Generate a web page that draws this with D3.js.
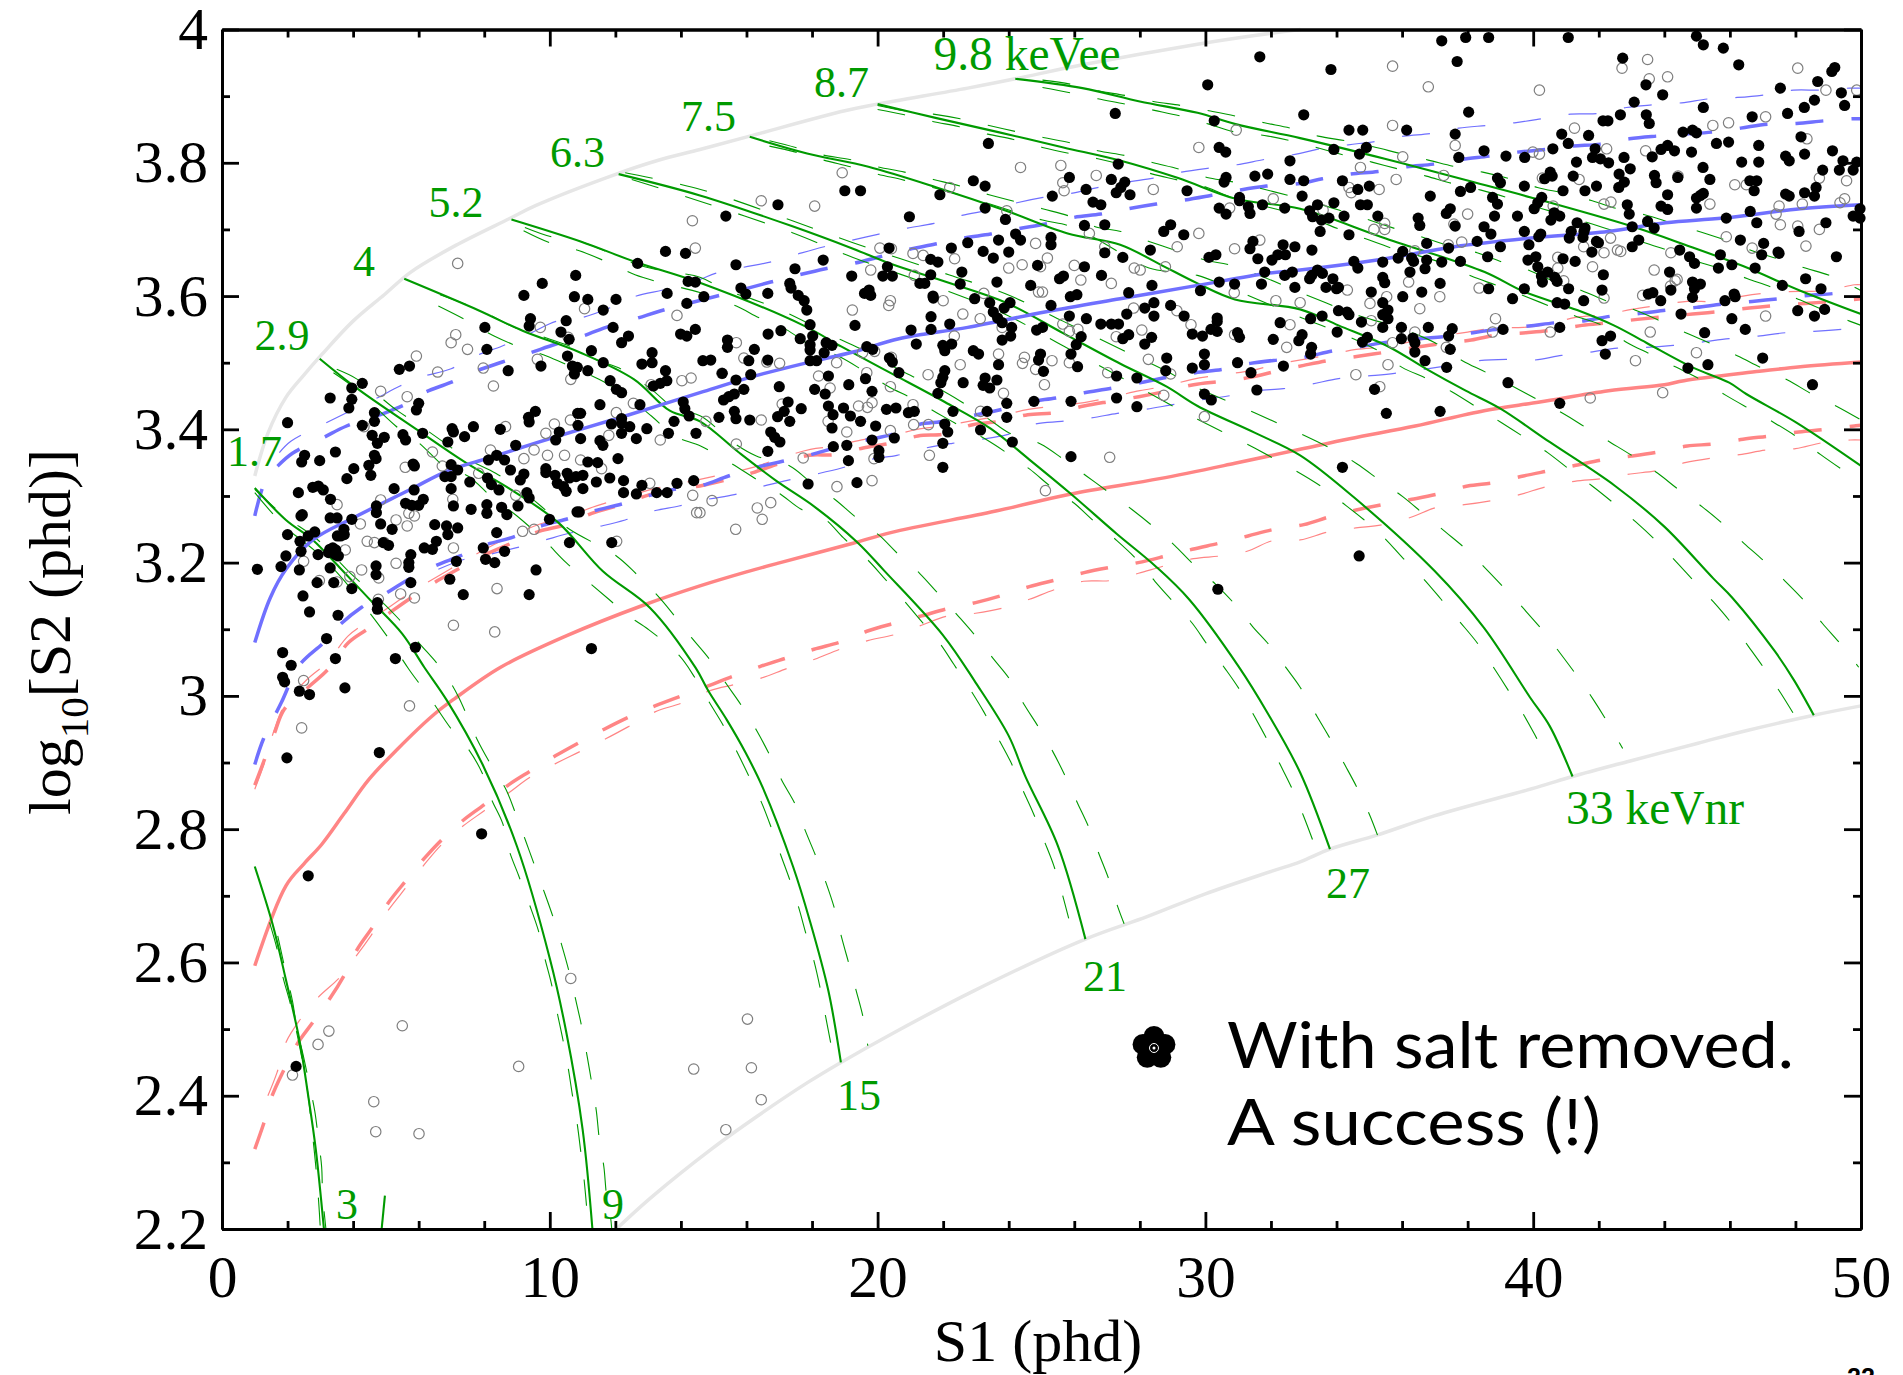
<!DOCTYPE html>
<html>
<head>
<meta charset="utf-8">
<script src="https://cdnjs.cloudflare.com/ajax/libs/d3/7.8.5/d3.min.js"></script>
<style>
  html, body { margin: 0; padding: 0; background: #fff; overflow: hidden; }
  svg { display: block; }
  text { font-family: "Liberation Serif", serif; }
</style>
</head>
<body>
<svg width="1903" height="1375"></svg>
<script>
// all curves and events below, as [S1, log10 S2]
const xTickMajor = [0, 10, 20, 30, 40, 50]
const xTickMinor = [2, 4, 6, 8, 12, 14, 16, 18, 22, 24, 26, 28, 32, 34, 36, 38, 42, 44, 46, 48]
const yTickMajor = [2.2, 2.4, 2.6, 2.8, 3, 3.2, 3.4, 3.6, 3.8, 4]
const yTickMinor = [2.3, 2.5, 2.7, 2.9, 3.1, 3.3, 3.5, 3.7, 3.9]

const upperBoundary = [[1,3.33],[1.4,3.394],[1.95,3.448],[2.49,3.481],[3.04,3.512],[3.99,3.562],[4.95,3.602],[5.76,3.636],[7.13,3.676],[8.76,3.716],[9.58,3.736],[12.03,3.783],[13.26,3.803],[14.58,3.82],[16.1,3.84],[19,3.878],[20,3.888],[22.75,3.912],[24.2,3.926],[26.25,3.947],[29.76,3.978],[31.5,3.991],[32.9,4]]
const lowerBoundary = [[12.03,2.2],[13.06,2.246],[14.96,2.321],[16.35,2.37],[17.87,2.42],[18.88,2.45],[20.4,2.492],[22.92,2.557],[26.34,2.635],[28.24,2.669],[30,2.703],[32.03,2.737],[32.89,2.751],[33.8,2.77],[35.23,2.791],[36.98,2.82],[40.13,2.863],[41.2,2.879],[42.93,2.902],[45.03,2.929],[46.43,2.947],[48.56,2.971],[50,2.985]]

const erMedian = [[1,3.08],[1.47,3.147],[1.95,3.19],[2.77,3.234],[4,3.267],[5.76,3.31],[6.85,3.337],[8.2,3.358],[10.26,3.39],[12.3,3.42],[14.58,3.455],[16.1,3.478],[17.85,3.5],[19.25,3.516],[20.65,3.536],[22.75,3.553],[25.1,3.576],[27.4,3.596],[29.76,3.616],[31.86,3.634],[32.89,3.639],[35.24,3.654],[37.6,3.674],[39.93,3.687],[42.28,3.697],[44.04,3.71],[45.8,3.717],[48.15,3.731],[50,3.737]]
const erUpper = [[1,3.27],[1.34,3.325],[1.68,3.344],[2.15,3.364],[3.11,3.388],[3.8,3.405],[4.94,3.424],[5.7,3.44],[6.17,3.455],[6.96,3.47],[7.78,3.488],[8.55,3.501],[9.41,3.515],[10.19,3.528],[11.01,3.54],[11.82,3.555],[12.68,3.567],[13.39,3.578],[15.98,3.611],[16.74,3.621],[17.62,3.632],[18.41,3.641],[19.27,3.649],[20.07,3.659],[20.94,3.67],[21.76,3.678],[22.61,3.687],[23.45,3.693],[24.29,3.701],[25.12,3.708],[25.99,3.718],[26.81,3.723],[27.65,3.731],[28.5,3.738],[29.35,3.744],[30.16,3.751],[31.04,3.759],[31.86,3.765],[32.89,3.769],[33.57,3.776],[34.42,3.783],[35.27,3.787],[36.14,3.794],[36.96,3.798],[37.82,3.805],[38.66,3.81],[39.52,3.816],[40.37,3.82],[41.2,3.825],[42.05,3.828],[42.93,3.836],[43.75,3.84],[44.63,3.843],[45.45,3.846],[46.33,3.852],[47.17,3.858],[48.03,3.859],[48.88,3.863],[49.76,3.866],[50,3.866]]
const erUpperThin = [[1.75,3.365],[2.1,3.382],[3.11,3.408],[3.8,3.425],[4.65,3.445],[5.43,3.465],[6.04,3.478],[6.99,3.491],[7.78,3.511],[8.55,3.525],[9.44,3.545],[10.19,3.562],[11.01,3.568],[11.82,3.582],[12.64,3.6],[13.53,3.61],[14.58,3.625],[15.05,3.634],[15.89,3.643],[16.72,3.651],[17.56,3.663],[18.37,3.674],[19.23,3.684],[20.04,3.693],[20.91,3.702],[21.72,3.709],[22.57,3.721],[23.39,3.729],[24.25,3.74],[25.05,3.748],[25.9,3.754],[26.74,3.763],[27.6,3.771],[28.41,3.777],[29.27,3.786],[30.11,3.792],[30.96,3.797],[31.8,3.805],[32.89,3.814],[33.48,3.821],[34.36,3.827],[35.18,3.832],[36.06,3.84],[36.88,3.844],[37.73,3.852],[38.58,3.856],[39.43,3.86],[40.26,3.866],[41.14,3.873],[41.99,3.874],[42.84,3.883],[43.66,3.887],[44.53,3.89],[45.37,3.896],[46.23,3.898],[47.07,3.902],[47.94,3.909],[48.79,3.909],[49.65,3.912],[50,3.912]]
const erLower = [[1,2.897],[1.27,2.936],[1.81,2.99],[2.36,3.046],[3.1,3.08],[3.58,3.106],[4.26,3.133],[4.97,3.153],[5.7,3.175],[6.5,3.195],[7.26,3.21],[8,3.226],[8.86,3.238],[9.67,3.254],[10.5,3.265],[11.3,3.277],[12.2,3.288],[13,3.3],[13.8,3.31],[14.58,3.315],[15.45,3.33],[16.3,3.343],[17.1,3.352],[17.97,3.362],[18.69,3.372],[19.66,3.384],[20.42,3.392],[21.23,3.407],[22.05,3.412],[22.93,3.421],[23.8,3.43],[24.62,3.441],[25.44,3.447],[26.31,3.455],[27.16,3.462],[28,3.47],[28.82,3.478],[29.7,3.485],[30.52,3.49],[31.37,3.499],[32.21,3.504],[32.89,3.507],[33.91,3.518],[34.71,3.524],[35.57,3.531],[36.53,3.536],[37.29,3.539],[38.17,3.545],[38.99,3.551],[39.87,3.555],[40.69,3.56],[41.58,3.563],[42.4,3.57],[43.28,3.574],[44.1,3.579],[44.98,3.583],[45.8,3.588],[46.68,3.592],[47.5,3.596],[48.38,3.601],[49.2,3.604],[50,3.61]]
const erLowerThin = [[6.6,3.19],[7.4,3.205],[8.22,3.213],[8.96,3.222],[9.85,3.234],[10.6,3.244],[11.49,3.254],[12.3,3.264],[13.12,3.277],[13.94,3.285],[14.81,3.295],[15.63,3.302],[16.45,3.314],[17.21,3.323],[18.14,3.333],[18.9,3.342],[19.81,3.355],[20.59,3.361],[21.47,3.372],[22.28,3.379],[23.14,3.385],[23.95,3.392],[24.82,3.408],[25.61,3.412],[26.49,3.417],[27.31,3.424],[28.18,3.43],[29,3.437],[29.85,3.444],[30.69,3.45],[31.57,3.458],[32.38,3.461],[33.24,3.468],[34.06,3.476],[34.94,3.48],[35.77,3.484],[36.65,3.49],[37.47,3.496],[38.35,3.503],[39.17,3.505],[40.05,3.504],[40.87,3.511],[41.75,3.516],[42.57,3.522],[43.45,3.523],[44.27,3.526],[45.15,3.531],[45.98,3.536],[46.86,3.54],[47.7,3.545],[48.56,3.547],[49.42,3.55],[50,3.553]]

const nrMedian = [[1,2.595],[1.95,2.715],[2.5,2.748],[3.04,2.777],[3.72,2.823],[4.47,2.874],[5.35,2.92],[6.44,2.971],[7.1,2.996],[8.5,3.043],[10.5,3.09],[12.85,3.136],[14.58,3.165],[16,3.186],[17.03,3.2],[19.25,3.229],[20.4,3.245],[23.57,3.277],[25.9,3.303],[28.6,3.326],[30.9,3.349],[32.89,3.37],[34.4,3.386],[36.4,3.405],[38.5,3.428],[40.2,3.441],[42.3,3.458],[44,3.467],[44.6,3.473],[46.9,3.487],[48.15,3.494],[50,3.501]]
const nrUpper = [[1,2.866],[1.3,2.905],[1.6,2.944],[1.9,2.98],[2.63,3.013],[3.24,3.04],[3.86,3.08],[4.43,3.1],[5.15,3.126],[5.76,3.147],[6.58,3.173],[7.3,3.193],[8.08,3.213],[8.87,3.23],[9.67,3.247],[10.5,3.257],[11.28,3.274],[12.17,3.287],[13.05,3.302],[13.85,3.31],[14.58,3.315],[15.45,3.325],[16.2,3.335],[17.09,3.35],[17.91,3.361],[18.69,3.362],[19.56,3.372],[20.38,3.379],[21.23,3.39],[22.05,3.393],[22.9,3.407],[23.74,3.412],[24.58,3.422],[25.41,3.425],[26.29,3.435],[27.11,3.442],[27.97,3.449],[28.79,3.457],[29.64,3.467],[30.48,3.472],[31.36,3.478],[32.15,3.487],[33,3.496],[33.83,3.504],[34.71,3.51],[35.53,3.516],[36.41,3.523],[37.23,3.529],[38.11,3.534],[38.93,3.542],[39.78,3.545],[40.64,3.549],[41.49,3.556],[42.31,3.56],[43.18,3.565],[44.02,3.569],[44.86,3.573],[45.74,3.577],[46.59,3.582],[47.42,3.586],[48.3,3.589],[49.15,3.592],[50,3.596]]
const nrUpperThin = [[1,2.86],[1.3,2.9],[1.6,2.95],[1.9,2.985],[2.6,3.025],[3.2,3.05],[3.85,3.09],[4.4,3.11],[5.15,3.135],[5.75,3.155],[6.6,3.18],[7.3,3.2],[8.1,3.222],[8.85,3.24],[9.7,3.258],[10.5,3.268],[11.3,3.283],[12.15,3.296],[13.1,3.31],[13.9,3.318],[14.58,3.325],[16.2,3.343],[17.1,3.358],[17.95,3.37],[18.7,3.375],[19.6,3.385],[20.4,3.39],[21.2,3.4],[22,3.405],[22.9,3.413],[23.7,3.42],[24.6,3.43],[25.4,3.435],[26.3,3.44],[27.1,3.448],[28,3.458],[28.8,3.465],[29.6,3.475],[30.5,3.482],[31.4,3.488],[32.1,3.497],[33,3.505],[33.8,3.512],[34.6,3.52],[35.5,3.524],[36.3,3.532],[37.2,3.54],[38,3.546],[38.8,3.552],[39.7,3.553],[40.5,3.558],[41.3,3.568],[42.2,3.572],[43,3.58],[43.8,3.586],[44.7,3.592],[45.6,3.592],[46.4,3.6],[47.2,3.605],[48.1,3.607],[48.9,3.608],[49.8,3.617],[50,3.617]]
const nrLower = [[1,2.32],[1.27,2.358],[1.53,2.4],[1.88,2.438],[2.3,2.478],[2.77,2.51],[3.28,2.545],[3.72,2.58],[4.13,2.62],[4.58,2.652],[5.08,2.69],[5.6,2.722],[6.15,2.755],[6.7,2.784],[7.35,2.813],[8,2.837],[8.7,2.865],[9.4,2.887],[10.17,2.91],[10.9,2.93],[11.66,2.95],[12.4,2.968],[13.21,2.985],[14.01,3],[14.83,3.015],[15.61,3.03],[16.41,3.044],[17.23,3.057],[18.06,3.07],[18.88,3.081],[19.67,3.097],[20.5,3.109],[21.34,3.12],[22.14,3.131],[22.99,3.14],[23.81,3.151],[24.63,3.164],[25.43,3.174],[26.3,3.185],[27.12,3.193],[27.95,3.2],[28.8,3.21],[29.6,3.22],[30.5,3.23],[31.3,3.24],[32.1,3.25],[33,3.257],[33.8,3.269],[34.6,3.279],[35.4,3.287],[36.3,3.295],[37.1,3.303],[38,3.315],[38.8,3.32],[39.7,3.33],[40.5,3.338],[41.3,3.346],[42.2,3.355],[43,3.36],[43.8,3.366],[44.7,3.375],[45.5,3.378],[46.4,3.385],[47.2,3.39],[48.1,3.396],[48.9,3.4],[49.8,3.405],[50,3.406]]
const nrLowerThin = [[1.4,2.4],[1.68,2.435],[1.95,2.48],[2.38,2.514],[2.94,2.548],[3.58,2.577],[4.13,2.612],[4.54,2.64],[5.08,2.679],[5.59,2.711],[6.14,2.745],[6.72,2.778],[7.36,2.805],[8.01,2.828],[8.76,2.855],[9.4,2.878],[10.16,2.898],[10.9,2.916],[11.72,2.936],[12.44,2.955],[13.21,2.976],[14.01,2.989],[14.89,3.008],[15.63,3.017],[16.47,3.027],[17.23,3.041],[18.08,3.055],[18.85,3.07],[19.7,3.083],[20.52,3.092],[21.34,3.106],[22.14,3.12],[22.99,3.124],[23.84,3.132],[24.63,3.145],[25.43,3.16],[26.28,3.172],[27.1,3.173],[27.96,3.184],[28.74,3.195],[29.64,3.206],[30.46,3.21],[31.27,3.217],[32.06,3.233],[32.89,3.234],[33.74,3.246],[34.59,3.252],[35.41,3.257],[36.27,3.268],[37.06,3.283],[37.9,3.287],[38.72,3.293],[39.58,3.302],[40.4,3.314],[41.26,3.322],[42.1,3.326],[42.96,3.333],[43.77,3.338],[44.63,3.35],[45.45,3.357],[46.3,3.362],[47.13,3.369],[48,3.371],[48.83,3.38],[49.67,3.384],[50,3.384]]

// contours of constant energy: solid median plus a thin dashed line to each side
const contour3 = [[1,2.744],[1.54,2.658],[1.95,2.574],[2.36,2.484],[2.63,2.4],[2.86,2.32],[3.11,2.2]]
const contour3Right = [[1.7,2.64],[1.95,2.584],[2.15,2.542],[2.29,2.5],[2.49,2.458],[2.66,2.418],[2.83,2.377],[2.94,2.335],[3.04,2.293],[3.07,2.251],[3.17,2.2]]
const contour3Left = [[1.45,2.66],[1.68,2.62],[1.85,2.58],[2.1,2.535],[2.3,2.49],[2.5,2.44],[2.63,2.4],[2.72,2.36],[2.85,2.3],[2.95,2.24],[3,2.2]]
const contour3Stub = [[4.97,2.25],[4.87,2.2]]
const contour9 = [[1,3.312],[1.95,3.264],[2.77,3.234],[3.58,3.193],[4.54,3.143],[5.5,3.093],[6.17,3.043],[6.85,2.994],[7.95,2.897],[9,2.774],[10,2.606],[10.5,2.496],[11,2.35],[11.3,2.2]]
const contour9Right = [[1,3.31],[1.9,3.27],[2.9,3.235],[3.9,3.185],[4.8,3.145],[5.4,3.115],[6,3.08],[6.7,3.04],[7.2,3],[7.78,2.935],[8.19,2.898],[8.66,2.86],[8.96,2.823],[9.26,2.783],[9.54,2.745],[9.85,2.703],[10.12,2.665],[10.37,2.625],[10.6,2.584],[10.8,2.542],[10.98,2.502],[11.14,2.459],[11.28,2.419],[11.42,2.377],[11.51,2.335],[11.65,2.293],[11.73,2.251],[11.85,2.219],[11.89,2.2]]
const contour9Left = [[1,3.305],[1.9,3.255],[2.9,3.215],[3.6,3.18],[4.5,3.125],[5.1,3.085],[5.7,3.04],[6.3,3],[7,2.95],[7.49,2.922],[7.94,2.884],[8.22,2.845],[8.56,2.809],[8.76,2.768],[9.06,2.729],[9.37,2.688],[9.65,2.648],[9.85,2.606],[10.05,2.568],[10.22,2.526],[10.4,2.484],[10.56,2.442],[10.69,2.401],[10.83,2.36],[10.94,2.318],[11.04,2.277],[11.12,2.235]]
const contour15 = [[2.98,3.506],[4.13,3.461],[5.9,3.401],[7.4,3.351],[8.9,3.307],[10.26,3.26],[11.62,3.187],[13.06,3.132],[14.45,3.042],[14.83,3.008],[15.4,2.964],[15.97,2.915],[16.5,2.862],[17.42,2.744],[17.93,2.663],[18.5,2.557],[18.88,2.45]]
const contour15Right = [[3.5,3.49],[4.13,3.475],[5.35,3.428],[5.97,3.408],[6.9,3.376],[7.5,3.355],[8.35,3.334],[9.1,3.31],[9.99,3.274],[10.6,3.25],[12.03,3.21],[12.64,3.183],[13.39,3.145],[14.33,3.087],[14.87,3.055],[15.4,3.017],[15.84,2.986],[16.31,2.948],[16.7,2.912],[17.08,2.873],[17.49,2.837],[17.8,2.797],[18.12,2.759],[18.43,2.719],[18.69,2.68],[18.9,2.638],[19.13,2.597],[19.35,2.557],[19.56,2.517],[19.7,2.475]]
const contour15Left = [[3.4,3.485],[4.1,3.46],[5.3,3.405],[6,3.38],[6.9,3.34],[7.5,3.33],[8.3,3.295],[9,3.27],[9.9,3.23],[10.5,3.2],[11.8,3.145],[12.4,3.12],[13,3.1],[13.94,3.061],[14.43,3.027],[14.87,2.99],[15.3,2.955],[15.69,2.918],[16.07,2.88],[16.45,2.841],[16.75,2.803],[17.04,2.762],[17.32,2.724],[17.59,2.683],[17.82,2.642],[18.06,2.602],[18.25,2.561],[18.41,2.52],[18.57,2.479]]
const contour21 = [[5.56,3.626],[7.67,3.582],[9.17,3.548],[10.94,3.515],[12.57,3.475],[13.66,3.428],[14.58,3.412],[15.75,3.366],[16.9,3.323],[18.1,3.283],[19.37,3.231],[20.2,3.188],[21.98,3.092],[22.99,3.02],[24,2.94],[24.5,2.88],[25.5,2.775],[26.34,2.635]]
const contour21Right = [[6.65,3.602],[7.36,3.589],[8.28,3.569],[8.96,3.552],[9.9,3.537],[10.6,3.525],[11.5,3.503],[12.2,3.49],[13.1,3.46],[13.8,3.432],[14.6,3.42],[15.6,3.38],[16.3,3.36],[17.32,3.345],[17.9,3.323],[18.69,3.295],[19.31,3.269],[20.07,3.24],[20.6,3.214],[21.28,3.184],[21.82,3.155],[22.42,3.122],[22.95,3.092],[23.51,3.057],[24.03,3.025],[24.47,2.987],[24.91,2.953],[25.35,2.916],[25.73,2.879],[26.1,2.839],[26.44,2.803],[26.76,2.762],[27.06,2.724],[27.33,2.683],[27.52,2.658]]
const contour21Left = [[6.6,3.585],[7.4,3.565],[8.3,3.54],[9,3.525],[9.9,3.51],[10.6,3.495],[11.5,3.475],[12.2,3.455],[13.1,3.42],[13.8,3.39],[14.6,3.375],[15.5,3.35],[16.3,3.325],[17.03,3.303],[17.67,3.28],[18.37,3.266],[18.96,3.237],[19.7,3.204],[20.18,3.178],[20.77,3.145],[21.3,3.114],[21.88,3.08],[22.33,3.047],[22.82,3.01],[23.24,2.976],[23.66,2.938],[24.06,2.901],[24.4,2.862],[24.75,2.824],[25.07,2.784],[25.37,2.746],[25.62,2.705],[25.83,2.666]]
const contour27 = [[8.83,3.715],[10.94,3.682],[12.57,3.652],[14.58,3.62],[17.73,3.556],[18.9,3.524],[20.42,3.484],[22.05,3.441],[23.45,3.401],[24.62,3.355],[25.9,3.303],[27.3,3.243],[28.47,3.195],[29.5,3.145],[31,3.045],[31.9,2.974],[32.89,2.885],[33.8,2.77]]
const contour27Right = [[9.24,3.703],[10.05,3.689],[10.87,3.683],[11.76,3.666],[12.57,3.649],[13.32,3.639],[14.6,3.628],[15.3,3.61],[16.2,3.595],[17,3.58],[18.9,3.534],[19.6,3.518],[20.3,3.499],[21,3.481],[21.9,3.46],[22.6,3.44],[23.4,3.415],[24,3.395],[24.97,3.378],[25.67,3.355],[26.37,3.33],[27.01,3.307],[27.75,3.28],[28.41,3.254],[29.06,3.226],[29.58,3.2],[30.32,3.167],[30.87,3.139],[31.44,3.104],[31.97,3.075],[32.51,3.039],[32.89,3.013],[33.42,2.968],[33.85,2.932],[34.27,2.895],[34.66,2.859],[35.03,2.819],[35.25,2.791]]
const contour27Left = [[9.2,3.698],[10,3.68],[10.9,3.668],[11.8,3.65],[12.6,3.632],[13.4,3.62],[14.6,3.605],[15.69,3.585],[16.4,3.567],[17.2,3.55],[18,3.525],[18.8,3.51],[19.6,3.487],[20.3,3.465],[21.1,3.445],[21.8,3.425],[22.6,3.403],[23.3,3.385],[24.62,3.341],[25.26,3.315],[26,3.289],[26.6,3.262],[27.3,3.233],[27.9,3.205],[28.46,3.172],[29,3.142],[29.6,3.109],[30.07,3.076],[30.6,3.041],[31.06,3.008],[31.5,2.969],[31.9,2.933],[32.3,2.895],[32.66,2.859],[33,2.819],[33.3,2.78]]
const contour33 = [[12.1,3.783],[14.58,3.751],[17.38,3.705],[19.25,3.671],[20.42,3.648],[22.17,3.62],[23.92,3.59],[25.67,3.544],[27.42,3.498],[28.82,3.464],[29.76,3.435],[31.5,3.395],[32.89,3.361],[34.53,3.298],[36.98,3.188],[38.5,3.102],[39.9,2.998],[40.5,2.955],[41.2,2.879]]
const contour33Right = [[12.3,3.785],[14.6,3.76],[17.4,3.713],[19.25,3.68],[22.17,3.632],[23.92,3.603],[25.67,3.562],[27.42,3.52],[28.82,3.487],[29.76,3.462],[31.5,3.425],[33.92,3.369],[34.63,3.348],[35.33,3.323],[36.02,3.299],[36.68,3.272],[37.35,3.245],[38,3.218],[38.61,3.188],[39.19,3.158],[39.78,3.127],[40.34,3.095],[40.87,3.061],[41.38,3.027],[41.84,2.994],[42.31,2.957],[42.73,2.921]]
const contour33Left = [[12.5,3.775],[14.6,3.742],[17.4,3.695],[19.25,3.658],[22.17,3.607],[23.92,3.572],[25.67,3.525],[27.42,3.478],[28.82,3.44],[29.76,3.415],[31.5,3.372],[33.48,3.316],[34.12,3.292],[34.82,3.265],[35.44,3.238],[36.04,3.206],[36.63,3.177],[37.19,3.145],[37.73,3.113],[38.3,3.079],[38.76,3.045],[39.23,3.009],[39.68,2.974],[40.1,2.937],[40.5,2.9]]
const contour39 = [[16.1,3.839],[17.85,3.814],[19.72,3.794],[21.8,3.763],[23.92,3.728],[25.8,3.694],[27.4,3.677],[28.6,3.648],[29.76,3.619],[30.9,3.595],[32.89,3.58],[34.06,3.556],[35.59,3.524],[36.76,3.49],[37.94,3.458],[39,3.431],[40.5,3.381],[42.5,3.315],[44,3.254],[45.5,3.176],[46.08,3.147],[47.37,3.067],[47.95,3.024],[48.56,2.971]]
const contour39Right = [[16.7,3.833],[17.5,3.823],[18.3,3.812],[19.15,3.805],[20,3.794],[20.82,3.786],[21.7,3.775],[22.52,3.765],[23.4,3.752],[25.03,3.731],[25.85,3.72],[26.72,3.703],[27.42,3.697],[28.28,3.682],[29.12,3.668],[30,3.654],[30.87,3.645],[33.12,3.601],[33.92,3.585],[34.71,3.57],[35.47,3.559],[36.3,3.545],[37,3.53],[37.84,3.503],[38.62,3.484],[40.9,3.424],[41.6,3.403],[42.37,3.38],[43,3.361],[43.8,3.334],[44.45,3.309],[45.15,3.284],[45.79,3.258],[46.43,3.229],[47.05,3.202],[47.69,3.172],[48.28,3.142],[48.82,3.109],[49.39,3.077],[49.93,3.043]]
const contour39Left = [[16.7,3.825],[17.5,3.816],[18.35,3.804],[19.17,3.794],[20,3.783],[20.8,3.774],[21.68,3.763],[22.5,3.752],[23.3,3.74],[25.03,3.714],[25.8,3.706],[26.6,3.688],[27.4,3.665],[28.28,3.642],[29.76,3.631],[30.7,3.613],[32.95,3.567],[33.7,3.553],[34.65,3.533],[35.35,3.516],[36,3.493],[36.76,3.476],[37.53,3.456],[38.25,3.434],[39,3.411],[39.7,3.389],[40.44,3.365],[41.1,3.34],[41.8,3.315],[42.46,3.289],[43.13,3.261],[43.72,3.234],[44.35,3.202],[44.91,3.172],[45.5,3.141],[46.05,3.109],[46.57,3.074],[47.05,3.041],[47.54,3.005],[47.98,2.97]]
const contour45 = [[20,3.888],[21.8,3.867],[23.68,3.846],[25.67,3.823],[27.42,3.803],[29.17,3.777],[30.92,3.746],[32.89,3.731],[35.41,3.688],[38.52,3.636],[39.7,3.607],[41.34,3.579],[42.46,3.556],[43.45,3.53],[44.86,3.493],[45.98,3.47],[46.5,3.453],[48.03,3.41],[50,3.345]]
const contour45Right = [[20,3.886],[20.82,3.878],[21.7,3.873],[22.52,3.866],[23.4,3.856],[24.2,3.847],[25.05,3.838],[25.87,3.83],[26.72,3.818],[27.54,3.811],[28.41,3.8],[29.23,3.79],[30.05,3.778],[30.87,3.771],[33.2,3.742],[34.2,3.727],[35,3.714],[35.8,3.701],[36.65,3.688],[37.35,3.677],[38.29,3.665],[39.05,3.651],[39.9,3.638],[40.64,3.622],[41.49,3.608],[42.22,3.593],[43.1,3.579],[43.86,3.563],[44.69,3.544],[45.45,3.528],[46.24,3.51],[46.97,3.492],[47.76,3.474],[48.5,3.453],[49.28,3.434],[49.97,3.415]]
const contour45Left = [[20,3.88],[20.82,3.872],[21.68,3.862],[22.5,3.854],[23.36,3.843],[24.15,3.835],[25.03,3.823],[25.85,3.814],[26.72,3.806],[27.54,3.796],[28.39,3.783],[29.17,3.774],[30.05,3.763],[30.8,3.748],[33.2,3.717],[34.1,3.7],[34.89,3.686],[35.68,3.672],[37.2,3.65],[38.11,3.63],[38.88,3.616],[39.73,3.6],[40.5,3.585],[41.28,3.57],[42.1,3.556],[42.87,3.53],[43.57,3.513],[44.37,3.493],[44.98,3.478],[45.88,3.451],[46.59,3.431],[47.35,3.41],[48.03,3.389],[48.77,3.362],[49.44,3.339]]
const contour51 = [[24.2,3.926],[26.25,3.912],[28,3.892],[29.76,3.875],[30.92,3.858],[32.89,3.837],[35.47,3.806],[37.94,3.774],[39.93,3.748],[42.98,3.705],[44.63,3.677],[46.4,3.645],[48.15,3.608],[50,3.573]]
const contour51Right = [[25.03,3.924],[25.88,3.918],[26.72,3.908],[27.56,3.901],[28.41,3.892],[29.25,3.886],[30.11,3.878],[30.92,3.87],[31.8,3.86],[32.6,3.852],[33.44,3.84],[34.27,3.833],[35.12,3.824],[35.94,3.814],[36.8,3.804],[37.62,3.794],[38.46,3.786],[39.29,3.776],[40.13,3.763],[40.96,3.754],[41.8,3.743],[42.57,3.731],[43.4,3.722],[44.2,3.71],[45.06,3.697],[45.8,3.685],[46.68,3.668],[47.44,3.656],[48.3,3.642],[49.09,3.63],[50,3.608]]
const contour51Left = [[25.03,3.913],[25.88,3.905],[26.72,3.896],[27.56,3.888],[28.41,3.879],[29.25,3.87],[30.11,3.858],[30.92,3.846],[31.8,3.841],[32.6,3.833],[34.2,3.812],[35.08,3.801],[35.86,3.791],[36.74,3.78],[37.53,3.769],[38.41,3.759],[39.19,3.748],[40,3.735],[40.9,3.722],[41.8,3.708],[42.6,3.695],[43.4,3.68],[44.2,3.667],[45,3.652],[45.8,3.64],[46.54,3.626],[47.29,3.613],[48.1,3.595],[48.9,3.578],[49.67,3.562],[50,3.556]]

const contourSolids = [contour3, contour3Stub, contour9, contour15, contour21, contour27, contour33, contour39, contour45, contour51]
const contourThins = [contour3Right, contour3Left, contour9Right, contour9Left, contour15Right, contour15Left, contour21Right, contour21Left, contour27Right, contour27Left, contour33Right, contour33Left, contour39Right, contour39Left, contour45Right, contour45Left, contour51Right, contour51Left]

const contourLabels = ['1.7', '2.9', '4', '5.2', '6.3', '7.5', '8.7', '9.8 keVee', '3', '9', '15', '21', '27', '33 keVnr']
const legendLines = ['With salt removed.', 'A success (!)']

const filledEvents = [
[2,3.41],[1.08,3.19],[1.8,3.194],[1.95,3.21],[2,3.242],[2.38,3.232],[2.33,3.305],[2.52,3.361],[2.43,3.351],[2.98,3.353],[3.3,3.447],[3.46,3.366],[3.96,3.462],[4.28,3.469],[3.96,3.445],[3.87,3.432],[4.28,3.406],[4.65,3.425],[4.65,3.412],[4.58,3.391],[4.95,3.388],[4.74,3.379],[5.41,3.49],[5.72,3.495],[6,3.439],[5.93,3.429],[5.52,3.392],[5.6,3.384],[6.12,3.394],[4.65,3.361],[4.7,3.356],[4.48,3.346],[4.54,3.331],[4.02,3.341],[3.81,3.326],[2.77,3.313],[2.94,3.315],[3.09,3.309],[3.31,3.295],[3.51,3.267],[3.3,3.267],[2.45,3.272],[2.41,3.27],[3.96,3.265],[3.72,3.25],[2.83,3.246],[2.63,3.24],[2.41,3.217],[2.93,3.212],[3.29,3.22],[3.38,3.222],[3.47,3.219],[3.25,3.215],[3.46,3.212],[3.55,3.21],[3.62,3.24],[3.52,3.24],[3.73,3.242],[3.3,3.192],[2.36,3.189],[2.9,3.17],[3.41,3.17],[3.96,3.161],[2.47,3.15],[2.67,3.126],[3.54,3.121],[3.19,3.086],[1.85,3.065],[2.11,3.046],[3.46,3.056],[1.85,3.028],[1.91,3.021],[2.36,3.007],[2.67,3.002],[3.75,3.012],[4.74,3.14],[4.74,3.13],[5.29,3.056],[5.9,3.073],[5.76,3.17],[5.7,3.193],[5.7,3.2],[5.76,3.212],[4.7,3.195],[4.7,3.182],[5.19,3.25],[4.84,3.258],[4.71,3.285],[4.71,3.275],[5.25,3.311],[5.86,3.309],[5.83,3.348],[5.87,3.345],[5.6,3.289],[5.79,3.286],[6,3.286],[6.14,3.295],[6.49,3.257],[4.92,3.23],[5.08,3.226],[6.17,3.222],[6.42,3.22],[6.54,3.232],[6.85,3.255],[7.19,3.252],[6.89,3.242],[7.06,3.285],[6.99,3.311],[6.8,3.329],[6.99,3.329],[6.99,3.347],[7.19,3.339],[6.89,3.381],[7.02,3.401],[7.06,3.396],[7.4,3.389],[7.67,3.404],[7.56,3.321],[7.6,3.28],[8.08,3.287],[8.08,3.274],[8.1,3.327],[8.22,3.317],[8.45,3.309],[8.53,3.283],[8.69,3.272],[9.03,3.285],[8.13,3.354],[8.38,3.361],[8.62,3.354],[8.8,3.339],[8.49,3.4],[8.96,3.376],[8.08,3.52],[8.02,3.553],[8.73,3.488],[9.21,3.601],[9.77,3.619],[10.79,3.631],[10.75,3.599],[11.16,3.595],[9.41,3.566],[9.37,3.555],[10.5,3.563],[10.34,3.546],[10.59,3.535],[11.63,3.579],[12.02,3.595],[12.68,3.649],[13.53,3.667],[14.14,3.664],[13.58,3.604],[14.22,3.622],[14.44,3.621],[14.18,3.589],[11.93,3.553],[12.19,3.53],[12.4,3.54],[13.99,3.543],[14.18,3.54],[14.44,3.55],[9.73,3.495],[10.54,3.51],[11.27,3.518],[11.63,3.5],[10.69,3.495],[10.84,3.493],[10.75,3.483],[11.16,3.488],[12.81,3.498],[13.12,3.515],[13.12,3.5],[11.84,3.473],[12.03,3.46],[12.19,3.455],[13.53,3.488],[13.16,3.465],[13.37,3.469],[13.57,3.473],[12.75,3.437],[14.07,3.441],[14.12,3.431],[14.25,3.42],[14.46,3.394],[13.79,3.412],[13.62,3.394],[12.96,3.401],[12.64,3.386],[12.19,3.416],[12.19,3.409],[12.19,3.394],[11.88,3.408],[12.44,3.404],[11.53,3.437],[9.35,3.418],[9.37,3.411],[9.56,3.427],[10.85,3.424],[10.94,3.424],[10.86,3.406],[10.94,3.386],[10.18,3.384],[10.29,3.396],[11.53,3.383],[11.62,3.376],[12.08,3.356],[9.88,3.341],[9.88,3.335],[11.16,3.351],[11.46,3.35],[10.16,3.331],[10.53,3.334],[10.6,3.327],[10.8,3.329],[11.01,3.331],[10.23,3.319],[10.42,3.314],[10.5,3.307],[11.01,3.311],[11.42,3.321],[11.83,3.327],[12.25,3.323],[12.25,3.305],[12.64,3.303],[12.81,3.316],[13.26,3.305],[13.58,3.305],[13.88,3.319],[14.39,3.323],[9.1,3.324],[9.21,3.333],[9.3,3.305],[9.37,3.297],[10.83,3.276],[10.9,3.276],[9.99,3.265],[8.38,3.245],[7.97,3.222],[8.04,3.205],[8.32,3.2],[8.62,3.217],[7.15,3.202],[6.95,3.175],[7.36,3.152],[9.37,3.152],[9.58,3.189],[10.6,3.23],[11.89,3.23],[11.27,3.071],
[1.98,2.907],[4.8,2.915],[2.63,2.73],[7.92,2.793],[2.26,2.444],
[15.37,3.72],[16.96,3.737],[19,3.758],[19.48,3.758],[20.97,3.719],[21.9,3.752],[23.38,3.829],[22.92,3.773],[23.28,3.765],[23.28,3.732],[23.9,3.715],[25.33,3.75],[25.85,3.778],[26.36,3.76],[27.25,3.874],[27.34,3.798],[27.13,3.775],[27.42,3.763],[27.54,3.771],[27.28,3.755],[27.7,3.752],[26.57,3.741],[26.81,3.737],[26.31,3.706],[26.93,3.707],[30.07,3.917],[30.27,3.863],[31.66,3.959],[30.42,3.823],[30.62,3.816],[32.58,3.803],[32.58,3.775],[30.63,3.778],[30.57,3.771],[31.51,3.78],[31.9,3.783],[29.44,3.758],[31.04,3.748],[31.04,3.743],[31.31,3.734],[31.36,3.724],[31.74,3.737],[32.42,3.732],[30.42,3.732],[30.63,3.723],[28.94,3.707],[28.73,3.697],[29.34,3.692],[28.32,3.669],[27.48,3.658],[26.93,3.665],[31.45,3.682],[31.36,3.671],[32.37,3.677],[32.73,3.674],[30.11,3.658],[30.32,3.662],[31.6,3.656],[32.03,3.654],[32.21,3.662],[32.44,3.662],[31.81,3.636],[32.42,3.631],[32.65,3.636],[31.71,3.618],[32.73,3.613],[30.42,3.621],[30.89,3.618],[29.85,3.608],[28.37,3.616],[27.66,3.605],[26.83,3.631],[26.31,3.644],[25.67,3.63],[25.55,3.626],[24.88,3.646],[25.29,3.688],[25.29,3.677],[24.21,3.693],[24.36,3.684],[23.69,3.684],[22.25,3.672],[23.22,3.667],[23.53,3.657],[24,3.666],[22.75,3.68],[21.62,3.655],[21.84,3.651],[22.57,3.636],[22.52,3.618],[21.62,3.632],[21.29,3.619],[21.44,3.619],[21.69,3.6],[21.7,3.597],[23.64,3.621],[24.67,3.616],[22.96,3.596],[23.42,3.59],[24.04,3.59],[23.86,3.582],[23.53,3.576],[23.66,3.567],[23.8,3.56],[25.29,3.586],[25.85,3.57],[25.88,3.599],[26.08,3.602],[26.37,3.566],[26.81,3.558],[27.13,3.558],[27.35,3.558],[27.6,3.573],[28.15,3.582],[28.43,3.59],[28.43,3.57],[28.94,3.586],[29.35,3.57],[30.36,3.567],[30.36,3.562],[29.6,3.543],[29.91,3.54],[30.17,3.55],[30.36,3.547],[30.98,3.545],[31.04,3.538],[32.07,3.535],[32.28,3.56],[32.85,3.533],[28.36,3.538],[28.15,3.528],[27.66,3.542],[27.48,3.536],[24.85,3.549],[25.03,3.553],[24.09,3.553],[24.06,3.54],[23.8,3.534],[22.2,3.558],[21.63,3.569],[21.63,3.55],[21.02,3.549],[21.18,3.528],[21.99,3.526],[22.26,3.528],[22.05,3.518],[22.92,3.518],[23.08,3.513],[23.69,3.497],[24.91,3.504],[24.97,3.513],[25.9,3.513],[26.1,3.494],[26.21,3.539],[26.06,3.527],[25.06,3.487],[28.82,3.507],[28.79,3.488],[29.97,3.513],[29.97,3.497],[29.6,3.492],[30.98,3.5],[31.39,3.485],[32.38,3.495],[27.29,3.48],[27.91,3.477],[27.29,3.447],[27.91,3.434],[29.97,3.453],[30.18,3.444],[31.57,3.459],[24.77,3.442],[25.9,3.442],[23.94,3.439],[23.94,3.418],[23.34,3.427],[23.14,3.399],[24.11,3.381],[25.9,3.359],[22.3,3.427],[22.05,3.408],[22.14,3.396],[21.99,3.379],[21.99,3.343],[20.94,3.425],[21.12,3.427],[20.27,3.43],[20.56,3.432],[19.94,3.405],[19.48,3.412],[18.96,3.432],[19.17,3.42],[18.64,3.422],[18.5,3.435],[18.61,3.402],[19.83,3.384],[20.51,3.387],[19.06,3.376],[18.65,3.374],[19.11,3.353],[20.04,3.368],[20.04,3.358],[17.88,3.318],[19.37,3.32],[16.65,3.367],[17.02,3.381],[16.86,3.388],[16.74,3.396],[17.32,3.412],[16.95,3.419],[17.15,3.427],[17.67,3.431],[17.27,3.441],[16.1,3.414],[15.63,3.427],[15.68,3.416],[15.16,3.418],[15.92,3.46],[15.63,3.453],[15.46,3.449],[15.3,3.444],[15.68,3.474],[16.13,3.482],[15.26,3.484],[17,3.464],[16.07,3.503],[16.65,3.504],[16.24,3.52],[15.42,3.534],[15.42,3.523],[14.91,3.504],[14.67,3.503],[16.66,3.543],[17.05,3.548],[17.64,3.536],[17.94,3.557],[18.02,3.54],[17.94,3.527],[17.94,3.519],[17.94,3.503],[18.14,3.503],[18.43,3.53],[18.61,3.526],[18.37,3.515],[17.84,3.579],[17.76,3.593],[17.58,3.601],[17.36,3.612],[17.32,3.619],[17.48,3.641],[18.34,3.654],[15.83,3.612],[15.98,3.603],[16.65,3.604],[15.68,3.647],[14.7,3.599],[19.21,3.63],[19.31,3.556],[19.6,3.604],[19.74,3.609],[19.79,3.601],[20.16,3.63],[20.3,3.644],[20.45,3.63],[20.35,3.672],[20.36,3.507],[20.45,3.501],[20.65,3.485],[19.67,3.524],[19.85,3.52],[18.5,3.48],[19.12,3.467],[19.63,3.476],[19.83,3.457],[18.4,3.453],[18.08,3.46],[22.05,3.488],[21.99,3.478],[21.93,3.47],[21.84,3.454],[22.61,3.47],[23.28,3.477],[23.22,3.466],[23.42,3.462],[23.64,3.474],[30.38,3.16],
[37.21,3.983],[37.94,3.988],[38.64,3.988],[41.07,3.988],[44.98,3.99],[45.19,3.977],[45.8,3.972],[37.68,3.952],[33.83,3.94],[46.27,3.947],[42.73,3.957],[43.44,3.917],[43.95,3.902],[43.08,3.891],[42.66,3.872],[43.45,3.872],[43.54,3.859],[42.13,3.863],[42.28,3.863],[45.19,3.883],[46.68,3.869],[47.54,3.912],[47.76,3.874],[48.68,3.922],[48.58,3.894],[48.27,3.883],[49.11,3.937],[49.2,3.943],[49.4,3.905],[49.5,3.886],[33,3.872],[38.03,3.876],[34.38,3.849],[34.8,3.849],[36.14,3.849],[37.62,3.843],[40.87,3.843],[41.07,3.829],[41.69,3.841],[44.57,3.846],[44.86,3.849],[44.98,3.845],[45.59,3.829],[45.96,3.831],[48.17,3.839],[48.28,3.813],[46.88,3.826],[46.88,3.801],[46.36,3.801],[43.9,3.82],[44.1,3.826],[44.31,3.818],[44.83,3.816],[43.63,3.809],[42.77,3.808],[41.89,3.821],[41.81,3.808],[42.05,3.806],[42.3,3.8],[41.32,3.801],[40.6,3.821],[39.17,3.81],[39.74,3.808],[38.5,3.818],[37.73,3.808],[33.92,3.82],[34.7,3.813],[34.91,3.823],[33,3.773],[32.95,3.75],[34.18,3.773],[34.65,3.76],[35,3.765],[37.78,3.757],[38.09,3.763],[36.86,3.75],[38.91,3.777],[39,3.77],[39.73,3.765],[40.35,3.776],[40.52,3.786],[40.58,3.78],[41.22,3.78],[40.91,3.758],[41.58,3.758],[41.93,3.765],[42.62,3.783],[42.78,3.771],[42.61,3.763],[42.96,3.791],[43.7,3.781],[43.75,3.77],[44.41,3.778],[44.1,3.752],[45.18,3.793],[45.39,3.775],[46.61,3.773],[46.82,3.773],[46.74,3.758],[47.7,3.81],[47.81,3.803],[49.13,3.818],[49.45,3.803],[49.34,3.789],[49.87,3.801],[49.76,3.789],[48.83,3.789],[47.7,3.753],[47.81,3.75],[48.28,3.755],[48.58,3.75],[48.63,3.763],[45.19,3.754],[44.98,3.747],[44.98,3.732],[45.1,3.751],[42.87,3.737],[42.93,3.723],[43.9,3.735],[44.1,3.73],[46.62,3.727],[45.89,3.717],[46.82,3.71],[48.93,3.71],[48.11,3.697],[49.97,3.731],[49.76,3.72],[49.97,3.717],[43.49,3.712],[43.69,3.702],[43.02,3.704],[43.22,3.684],[43.02,3.674],[44.47,3.669],[44.77,3.659],[44.92,3.649],[46.32,3.684],[47.03,3.679],[46.97,3.662],[45.71,3.662],[45.65,3.642],[46.06,3.647],[46.77,3.642],[47.47,3.666],[47.5,3.664],[49.25,3.659],[47.6,3.616],[48.31,3.626],[48.78,3.611],[48.89,3.58],[48.58,3.57],[48.07,3.578],[46.06,3.566],[46.47,3.55],[45.23,3.545],[44.51,3.573],[46.13,3.603],[46.16,3.599],[45.85,3.593],[44.16,3.636],[44.86,3.621],[45.1,3.618],[44.92,3.611],[44.86,3.598],[44.2,3.609],[43.89,3.593],[43.65,3.605],[43.51,3.603],[42.14,3.632],[42.1,3.609],[41.54,3.593],[41.79,3.666],[41.93,3.682],[41.99,3.68],[41.28,3.652],[40.91,3.656],[41.58,3.702],[41.55,3.697],[41.52,3.688],[41.34,3.71],[41.16,3.697],[41.1,3.687],[40.64,3.725],[40.81,3.72],[40.54,3.714],[40.26,3.748],[40.14,3.74],[40.03,3.731],[39.52,3.72],[39.73,3.697],[40.17,3.689],[40.23,3.693],[39.87,3.677],[40.08,3.659],[39.84,3.654],[40.14,3.644],[40.44,3.636],[40.25,3.63],[40.66,3.628],[40.28,3.621],[41.08,3.611],[40.73,3.622],[39.73,3.611],[39.37,3.596],[38.64,3.611],[40.73,3.59],[40.96,3.588],[40.81,3.553],[42.1,3.533],[42.36,3.54],[42.2,3.513],[39,3.674],[38.61,3.659],[38.29,3.682],[37.78,3.652],[38.82,3.72],[38.71,3.693],[38.5,3.704],[37.62,3.705],[38.91,3.738],[38.76,3.748],[37.47,3.731],[37.35,3.724],[36.49,3.717],[36.54,3.706],[35.26,3.72],[34.23,3.72],[33.92,3.74],[33.42,3.737],[33.18,3.728],[34.73,3.737],[34.94,3.737],[33.77,3.717],[33.54,3.714],[33.27,3.719],[34.38,3.692],[33.5,3.697],[36.75,3.679],[37.42,3.672],[37.21,3.651],[36.75,3.654],[36.7,3.641],[36.24,3.636],[36.02,3.667],[35.88,3.657],[36.29,3.657],[36.35,3.652],[35.41,3.651],[34.53,3.652],[34.65,3.642],[33.25,3.669],[33.42,3.639],[33.24,3.631],[33.57,3.634],[33.18,3.626],[33.89,3.626],[33.68,3.613],[34,3.611],[34.06,3.613],[35.41,3.628],[35.47,3.62],[35.06,3.606],[35.41,3.59],[36.02,3.599],[36.6,3.606],[37.16,3.619],[34.06,3.578],[34.32,3.576],[34.38,3.572],[33.56,3.57],[33.21,3.566],[35.57,3.579],[35.41,3.572],[35.57,3.566],[35.41,3.553],[34.76,3.561],[35.98,3.553],[35.98,3.536],[36.33,3.537],[36.39,3.53],[36.8,3.553],[37.53,3.551],[37.42,3.54],[37.47,3.52],[39.08,3.55],[34.02,3.546],[32.95,3.542],[34.94,3.538],[34.79,3.531],[33.24,3.523],[33.21,3.513],[36.39,3.516],[36.7,3.503],[37.36,3.493],[44.72,3.492],[45.33,3.497],[47,3.507],[35.16,3.46],[39.23,3.47],[48.52,3.467],[35.52,3.424],[37.16,3.427],[40.81,3.439],[34.18,3.343],[34.69,3.21]
]

const openEvents = [
[7.19,3.649],[7.13,3.542],[6.99,3.53],[7.49,3.52],[5.93,3.51],[7.97,3.492],[6.58,3.486],[8.28,3.465],[4.84,3.457],[5.65,3.449],[9.62,3.505],[9.71,3.553],[11.06,3.581],[10.56,3.538],[10.64,3.475],[14.35,3.713],[14.44,3.672],[13.88,3.571],[14.03,3.473],[14.31,3.477],[13.09,3.467],[12.55,3.439],[12.03,3.425],[10.14,3.408],[10.63,3.414],[8.65,3.404],[9.88,3.394],[11.8,3.391],[13.37,3.384],[8.19,3.369],[6.42,3.366],[6.72,3.345],[5.59,3.343],[4.33,3.404],[9.21,3.356],[9.52,3.369],[9.93,3.361],[10.45,3.361],[10.94,3.354],[11.58,3.341],[7.83,3.334],[8.96,3.301],[7.04,3.295],[4.84,3.294],[3.51,3.287],[5.7,3.274],[5.87,3.27],[5.31,3.264],[5.65,3.255],[4.22,3.258],[9.17,3.247],[9.52,3.25],[7.06,3.222],[12.04,3.232],[4.43,3.232],[4.65,3.23],[4.95,3.23],[3.76,3.219],[5.31,3.199],[4.26,3.189],[2.49,3.202],[3.51,3.171],[2.97,3.173],[3.9,3.179],[4.78,3.177],[4.77,3.145],[5.45,3.153],[5.87,3.147],[7.06,3.106],[8.32,3.096],[8.39,3.161],[2.49,3.023],[14.36,3.301],[14.48,3.275],[13.05,3.319],
[2.43,2.952],[5.72,2.985],[10.64,2.576],[5.5,2.505],[3.26,2.497],[2.93,2.477],[2.15,2.431],[9.05,2.444],[4.63,2.391],[4.69,2.346],[6.01,2.343],[16.03,2.515],[14.39,2.44],[16.15,2.442],[16.45,2.394],[15.37,2.349],
[16.45,3.743],[18.08,3.735],[18.92,3.785],[22.2,3.763],[24.36,3.793],[25.59,3.796],[25.65,3.77],[25.69,3.758],[26.67,3.781],[28.41,3.76],[23.94,3.728],[29.8,3.823],[30.94,3.849],[32.07,3.746],[30.74,3.732],[26.46,3.694],[29.8,3.694],[29.14,3.674],[30.89,3.671],[31.66,3.684],[20.07,3.672],[20.42,3.671],[21.08,3.664],[21.39,3.661],[22.35,3.656],[24.82,3.679],[25.18,3.657],[24.41,3.647],[24,3.642],[24.97,3.644],[26,3.646],[26.93,3.674],[19.79,3.639],[21.12,3.631],[26.2,3.624],[27.13,3.619],[27.83,3.642],[28.01,3.639],[28.78,3.644],[23.24,3.604],[24.91,3.606],[25.03,3.606],[22,3.593],[20.39,3.593],[20.34,3.586],[19.23,3.579],[22.6,3.573],[23.13,3.566],[23.8,3.553],[25.65,3.558],[25.85,3.547],[26.11,3.55],[27.81,3.582],[29.13,3.578],[29.56,3.557],[28.06,3.549],[27.28,3.539],[30.89,3.542],[32.48,3.523],[32.58,3.557],[32.15,3.593],[30.88,3.605],[22.34,3.54],[15.69,3.53],[15.92,3.507],[17.01,3.499],[16.62,3.501],[18.75,3.5],[19.54,3.515],[19.91,3.517],[20.42,3.508],[23.69,3.513],[24.48,3.508],[24.42,3.499],[24.82,3.49],[25.32,3.503],[25.85,3.5],[22.52,3.497],[21.54,3.482],[18.2,3.48],[19.67,3.485],[27.02,3.485],[28.26,3.505],[28.94,3.483],[25.09,3.467],[23.84,3.454],[28.73,3.451],[29.97,3.419],[18.55,3.462],[20.39,3.464],[19.42,3.435],[19.83,3.44],[19.69,3.433],[21.08,3.437],[17.09,3.438],[23.14,3.427],[18.49,3.412],[16.45,3.414],[14.76,3.412],[20.39,3.398],[19.06,3.396],[21.1,3.407],[21.55,3.407],[15.69,3.378],[17.73,3.357],[21.58,3.361],[19.89,3.356],[27.08,3.358],[18.76,3.314],[19.83,3.323],[25.12,3.308],[14.95,3.293],[16.33,3.282],[16.74,3.29],[16.48,3.265],[15.67,3.25],[14.58,3.275],[15.25,3.484],
[35.71,3.945],[36.8,3.914],[40.19,3.909],[43.49,3.955],[42.71,3.942],[43.54,3.926],[44.1,3.929],[48.07,3.942],[48.93,3.909],[49.87,3.909],[35.71,3.856],[37.62,3.826],[41.26,3.852],[42.24,3.821],[39.99,3.816],[40.19,3.813],[43.43,3.818],[45.48,3.856],[45.96,3.86],[47.09,3.869],[48.35,3.836],[36.02,3.809],[34.73,3.793],[35.82,3.775],[37.27,3.781],[35.3,3.76],[34.38,3.763],[34.45,3.755],[40.28,3.777],[41.4,3.775],[44.42,3.78],[46.15,3.767],[46.5,3.767],[48.73,3.777],[49.56,3.773],[45.39,3.738],[42.37,3.741],[42.16,3.738],[40.61,3.735],[33.59,3.729],[38,3.723],[35.47,3.709],[35.14,3.7],[35.47,3.7],[37.58,3.708],[47.5,3.735],[47.41,3.723],[47.54,3.707],[48.21,3.738],[48.07,3.705],[48.73,3.7],[49.36,3.74],[49.5,3.746],[42.36,3.687],[41.54,3.674],[42.16,3.665],[42.57,3.669],[42.67,3.667],[44.2,3.665],[45.89,3.689],[46.68,3.672],[48.32,3.675],[37.82,3.681],[37.41,3.677],[36.39,3.668],[40.75,3.658],[40.75,3.642],[40.93,3.623],[41.81,3.644],[43.69,3.639],[44.39,3.625],[44.33,3.623],[44.19,3.615],[43.34,3.601],[42.16,3.597],[36.2,3.621],[35.53,3.599],[34.33,3.609],[37.15,3.599],[38.35,3.612],[35.02,3.589],[36.54,3.581],[38.85,3.566],[35.06,3.563],[32.89,3.59],[43.57,3.546],[47.09,3.57],[40.52,3.546],[38.76,3.546],[36.39,3.546],[37.35,3.523],[35.71,3.53],[35.57,3.497],[34.59,3.482],[35.32,3.464],[43.12,3.503],[44.98,3.515],[43.95,3.455],[41.74,3.447]
]

const width = 1903, height = 1375
const margin = { top: 29.5, right: 42, bottom: 146, left: 222 }

const x = d3.scaleLinear().domain([0, 50]).range([margin.left, width - margin.right])
const y = d3.scaleLinear().domain([2.2, 4]).range([height - margin.bottom, margin.top])

const green = '#009a00', blue = '#7070ff', pink = '#ff8585', grey = '#e6e6e6'
const dash = '28 28'

const svg = d3.select('svg')
const line = d3.line().curve(d3.curveCatmullRom.alpha(0.5)).x(d => x(d[0])).y(d => y(d[1]))

const curves = [
  { d: upperBoundary, c: grey, w: 3.5 },
  { d: lowerBoundary, c: grey, w: 3.5 },
  { d: nrMedian, c: pink, w: 3.5 },
  { d: nrUpperThin, c: pink, w: 1.2, dash },
  { d: nrLowerThin, c: pink, w: 1.2, dash },
  { d: nrUpper, c: pink, w: 3.5, dash },
  { d: nrLower, c: pink, w: 3.5, dash },
  { d: erUpperThin, c: blue, w: 1.2, dash },
  { d: erLowerThin, c: blue, w: 1.2, dash },
  { d: erLower, c: blue, w: 3.5, dash },
  { d: erUpper, c: blue, w: 3.5, dash },
  ...contourThins.map(d => ({ d, c: green, w: 1.1, dash })),
  ...contourSolids.map(d => ({ d, c: green, w: 2.1 })),
  { d: erMedian, c: blue, w: 3.5 }
]

svg.append('g')
  .attr('fill', 'none')
  .selectAll('path')
  .data(curves)
  .enter()
  .append('path')
  .attr('d', d => line(d.d))
  .attr('stroke', d => d.c)
  .attr('stroke-width', d => d.w)
  .attr('stroke-dasharray', d => d.dash || null)

svg.append('g')
  .selectAll('circle')
  .data(openEvents)
  .enter()
  .append('circle')
  .attr('cx', d => x(d[0]))
  .attr('cy', d => y(d[1]))
  .attr('r', 5.2)
  .attr('fill', 'none')
  .attr('stroke', '#7f7f7f')
  .attr('stroke-width', 1.2)

svg.append('g')
  .selectAll('circle')
  .data(filledEvents)
  .enter()
  .append('circle')
  .attr('cx', d => x(d[0]))
  .attr('cy', d => y(d[1]))
  .attr('r', 5.6)
  .attr('fill', '#000')

// axes: long labelled ticks and short minor ticks, pointing inward on all four sides
const bottom = height - margin.bottom, right = width - margin.right
const axes = [
  [d3.axisBottom(x).tickValues(xTickMajor).tickSizeInner(-17).tickSizeOuter(0).tickPadding(26).tickFormat(d3.format('d')), 0, bottom],
  [d3.axisBottom(x).tickValues(xTickMinor).tickSizeInner(-8).tickSizeOuter(0).tickFormat(''), 0, bottom],
  [d3.axisTop(x).tickValues(xTickMajor).tickSizeInner(-17).tickSizeOuter(0).tickFormat(''), 0, margin.top],
  [d3.axisTop(x).tickValues(xTickMinor).tickSizeInner(-8).tickSizeOuter(0).tickFormat(''), 0, margin.top],
  [d3.axisLeft(y).tickValues(yTickMajor).tickSizeInner(-17).tickSizeOuter(0).tickPadding(14).tickFormat(d3.format('~g')), margin.left, 0],
  [d3.axisLeft(y).tickValues(yTickMinor).tickSizeInner(-8).tickSizeOuter(0).tickFormat(''), margin.left, 0],
  [d3.axisRight(y).tickValues(yTickMajor).tickSizeInner(-17).tickSizeOuter(0).tickFormat(''), right, 0],
  [d3.axisRight(y).tickValues(yTickMinor).tickSizeInner(-8).tickSizeOuter(0).tickFormat(''), right, 0]
]

axes.forEach(([axis, tx, ty]) => {
  const g = svg.append('g').attr('transform', `translate(${tx},${ty})`).call(axis)
  g.selectAll('path, line').attr('stroke', '#000').attr('stroke-width', 2.8)
  g.selectAll('text').attr('font-family', '"Liberation Serif", serif').attr('font-size', 59.5).attr('fill', '#000')
})

svg.append('text')
  .attr('x', 1038)
  .attr('y', 1361)
  .attr('text-anchor', 'middle')
  .attr('font-size', 60)
  .text('S1 (phd)')

const yTitle = svg.append('text')
  .attr('transform', 'translate(70,632) rotate(-90)')
  .attr('text-anchor', 'middle')
  .attr('font-size', 60)
yTitle.append('tspan').text('log')
yTitle.append('tspan').attr('font-size', 41).attr('dy', 18).text('10')
yTitle.append('tspan').attr('dy', -18).text('[S2 (phd)]')

// energy labels sit next to the ends of their contours
const labelPositions = [[227,466],[254.5,350],[353,276],[428.6,216.5],[550,167],[681,131],[814,97],[933.4,70],[336,1219],[602,1219],[837,1110],[1083,991],[1326,898],[1566,824]]
svg.append('g')
  .selectAll('text')
  .data(contourLabels)
  .enter()
  .append('text')
  .attr('x', (d, i) => labelPositions[i][0])
  .attr('y', (d, i) => labelPositions[i][1])
  .attr('font-size', d => d.length > 5 ? 47.5 : 44)
  .attr('fill', green)
  .text(d => d)

// little flower marker in front of the note
const flower = svg.append('g').attr('transform', 'translate(1154,1048)')
flower.selectAll('circle')
  .data(d3.range(5))
  .enter()
  .append('circle')
  .attr('cx', i => 11.5 * Math.sin(i * 2 * Math.PI / 5))
  .attr('cy', i => -11.5 * Math.cos(i * 2 * Math.PI / 5))
  .attr('r', 10.5)
flower.append('circle').attr('r', 8).attr('fill', '#000')
flower.append('circle').attr('r', 4.5).attr('fill', 'none').attr('stroke', '#fff').attr('stroke-width', 1)
flower.append('circle').attr('r', 1.5).attr('fill', '#fff')

svg.append('g')
  .selectAll('text')
  .data(legendLines)
  .enter()
  .append('text')
  .attr('x', 1227)
  .attr('y', (d, i) => 1068 + i * 77)
  .attr('font-size', 64)
  .attr('textLength', (d, i) => i ? 374 : 567)
  .attr('lengthAdjust', 'spacingAndGlyphs')
  .style('font-family', 'Lato, sans-serif')
  .style('font-weight', 400)
  .text(d => d)

// slide number, cut off by the page edge in the source
svg.append('text')
  .attr('x', 1847)
  .attr('y', 1386)
  .attr('font-size', 25)
  .attr('font-weight', 700)
  .style('font-family', '"Liberation Sans", sans-serif')
  .text('22')
</script>
</body>
</html>
